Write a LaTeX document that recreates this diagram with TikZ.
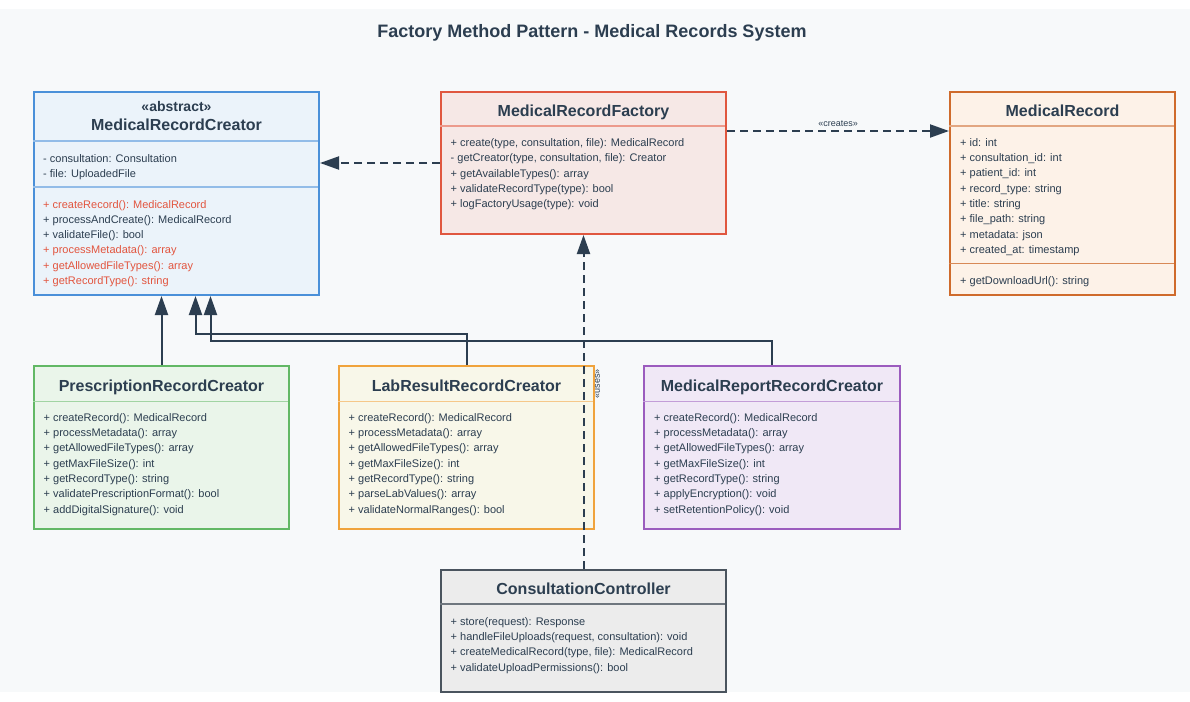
\documentclass[tikz,border=0pt]{standalone}
\usepackage{fontspec}
\setmainfont{Liberation Sans}
\usetikzlibrary{arrows.meta}

\definecolor{ink}{HTML}{2C3E50}
\definecolor{absred}{HTML}{E2553F}
\definecolor{bgpanel}{HTML}{F7F9FA}
\definecolor{creatorline}{HTML}{4A90D9}
\definecolor{creatorfill}{HTML}{EBF3FA}
\definecolor{factoryline}{HTML}{E0573F}
\definecolor{factoryfill}{HTML}{F6E8E6}
\definecolor{recordline}{HTML}{CF6B2C}
\definecolor{recordfill}{HTML}{FDF2E8}
\definecolor{presline}{HTML}{62B865}
\definecolor{presfill}{HTML}{EAF5EA}
\definecolor{labline}{HTML}{F0A33C}
\definecolor{labfill}{HTML}{F8F7E9}
\definecolor{reportline}{HTML}{9B5CBE}
\definecolor{reportfill}{HTML}{F0E8F6}
\definecolor{ctrlline}{HTML}{4A545E}
\definecolor{ctrlfill}{HTML}{ECECEC}

\tikzset{
  classbox/.style={draw, line width=2pt, anchor=north west, inner sep=0pt},
  classname/.style={font=\fontsize{16}{19}\selectfont\bfseries, text=ink, text height=11.5pt, text depth=0pt},
  stereo/.style={font=\fontsize{14}{17}\selectfont\bfseries, text=ink},
  member/.style={font=\fontsize{11}{13}\selectfont, text=ink, anchor=west, inner sep=0pt, text height=8pt, text depth=0pt},
  divider/.style={line width=1.5pt},
  inherit/.style={line width=2pt, draw=ink, -{Triangle[length=19pt,width=13pt]}},
  depend/.style={inherit, dash pattern=on 8pt off 5pt},
  relname/.style={font=\fontsize{9}{11}\selectfont, text=ink, inner sep=1pt}
}

\begin{document}
\begin{tikzpicture}[x=1pt,y=-1pt]
    \fill [white] (0,0) rectangle (1190,701);
    \fill [bgpanel] (0,9) rectangle (1190,692);
    \useasboundingbox (0,0) rectangle (1190,701);
    \node [font=\fontsize{18}{22}\selectfont\bfseries, text=ink] (title) at (592,33) {Factory Method Pattern - Medical Records System};

    % abstract creator
    \node [classbox, draw=creatorline, fill=creatorfill, minimum width=285, minimum height=203] (creator) at (33,91) {};
    \node [stereo] (creator-st) at ([yshift=-15pt]creator.north) {«abstract»};
    \node [classname] (creator-name) at ([yshift=-34pt]creator.north) {MedicalRecordCreator};
    \draw [divider, creatorline!60] (33,141) -- (318,141);
    \draw [divider, creatorline!60] (33,187) -- (318,187);
    \foreach \m [count=\i from 0] in {- consultation: Consultation, - file: UploadedFile}
      \node [member] (creator-a\i) at (43,158+15.3*\i) {\m};
    \foreach \m/\c [count=\i from 0] in {+ createRecord(): MedicalRecord/absred, + processAndCreate(): MedicalRecord/ink, + validateFile(): bool/ink, + processMetadata(): array/absred, + getAllowedFileTypes(): array/absred, + getRecordType(): string/absred}
      \node [member, text=\c] (creator-m\i) at (43,204.3+15.2*\i) {\m};

    % factory
    \node [classbox, draw=factoryline, fill=factoryfill, minimum width=285, minimum height=142] (factory) at (440,91) {};
    \node [classname] (factory-name) at ([yshift=-20pt]factory.north) {MedicalRecordFactory};
    \draw [divider, factoryline!60] (440,126) -- (725,126);
    \foreach \m [count=\i from 0] in {{+ create(type, consultation, file): MedicalRecord}, {- getCreator(type, consultation, file): Creator}, + getAvailableTypes(): array, + validateRecordType(type): bool, + logFactoryUsage(type): void}
      \node [member] (factory-m\i) at (450.5,142.2+15.4*\i) {\m};

    % product
    \node [classbox, draw=recordline, fill=recordfill, minimum width=225, minimum height=203] (record) at (949,91) {};
    \node [classname] (record-name) at ([yshift=-20pt]record.north) {MedicalRecord};
    \draw [divider, recordline!60] (949,126) -- (1174,126);
    \draw [divider, recordline!80] (949,263.5) -- (1174,263.5);
    \foreach \m [count=\i from 0] in {+ id: int, + consultation\_id: int, + patient\_id: int, + record\_type: string, + title: string, + file\_path: string, + metadata: json, + created\_at: timestamp}
      \node [member] (record-a\i) at (960,142.2+15.3*\i) {\m};
    \node [member] (record-m0) at (960,280.3) {+ getDownloadUrl(): string};

    % concrete creators
    \node [classbox, draw=presline, fill=presfill, minimum width=255, minimum height=163] (prescription) at (33,365) {};
    \node [classname] (prescription-name) at ([yshift=-21pt]prescription.north) {PrescriptionRecordCreator};
    \draw [divider, presline!60] (33,401.3) -- (288,401.3);
    \foreach \m [count=\i from 0] in {+ createRecord(): MedicalRecord, + processMetadata(): array, + getAllowedFileTypes(): array, + getMaxFileSize(): int, + getRecordType(): string, + validatePrescriptionFormat(): bool, + addDigitalSignature(): void}
      \node [member] (prescription-m\i) at (43.5,417.3+15.3*\i) {\m};

    \node [classbox, draw=labline, fill=labfill, minimum width=255, minimum height=163] (labresult) at (338,365) {};
    \node [classname] (labresult-name) at ([yshift=-21pt]labresult.north) {LabResultRecordCreator};
    \draw [divider, labline!60] (338,401.3) -- (593,401.3);
    \foreach \m [count=\i from 0] in {+ createRecord(): MedicalRecord, + processMetadata(): array, + getAllowedFileTypes(): array, + getMaxFileSize(): int, + getRecordType(): string, + parseLabValues(): array, + validateNormalRanges(): bool}
      \node [member] (labresult-m\i) at (348.5,417.3+15.3*\i) {\m};

    \node [classbox, draw=reportline, fill=reportfill, minimum width=256, minimum height=163] (report) at (643,365) {};
    \node [classname] (report-name) at ([yshift=-21pt]report.north) {MedicalReportRecordCreator};
    \draw [divider, reportline!60] (643,401.3) -- (899,401.3);
    \foreach \m [count=\i from 0] in {+ createRecord(): MedicalRecord, + processMetadata(): array, + getAllowedFileTypes(): array, + getMaxFileSize(): int, + getRecordType(): string, + applyEncryption(): void, + setRetentionPolicy(): void}
      \node [member] (report-m\i) at (654,417.3+15.3*\i) {\m};

    % client
    \node [classbox, draw=ctrlline, fill=ctrlfill, minimum width=285, minimum height=122] (controller) at (440,569) {};
    \node [classname] (controller-name) at ([yshift=-20pt]controller.north) {ConsultationController};
    \draw [divider, ctrlline!80] (440,604) -- (725,604);
    \foreach \m [count=\i from 0] in {+ store(request): Response, {+ handleFileUploads(request, consultation): void}, {+ createMedicalRecord(type, file): MedicalRecord}, + validateUploadPermissions(): bool}
      \node [member] (controller-m\i) at (450.5,621+15.4*\i) {\m};

    % relations
    \coordinate (labbend) at (195.5,334);
    \coordinate (repbend) at (210.5,340.5);
    \coordinate (fr) at ([yshift=-40pt]factory.north east);
    \draw [inherit] (prescription.north) -- (prescription.north |- creator.south);
    \draw [inherit] (labresult.north) |- (labbend) -- (labbend |- creator.south);
    \draw [inherit] (report.north) |- (repbend) -- (repbend |- creator.south);
    \draw [depend] (factory.west) -- (factory.west -| creator.east);
    \draw [depend] (fr) -- (fr -| record.west) node [midway, above=2pt, relname] (creates) {«creates»};
    \draw [depend] (controller.north) -- (factory.south) node [pos=0.554, xshift=14pt, rotate=90, relname] (uses) {«uses»};
\end{tikzpicture}
\end{document}
